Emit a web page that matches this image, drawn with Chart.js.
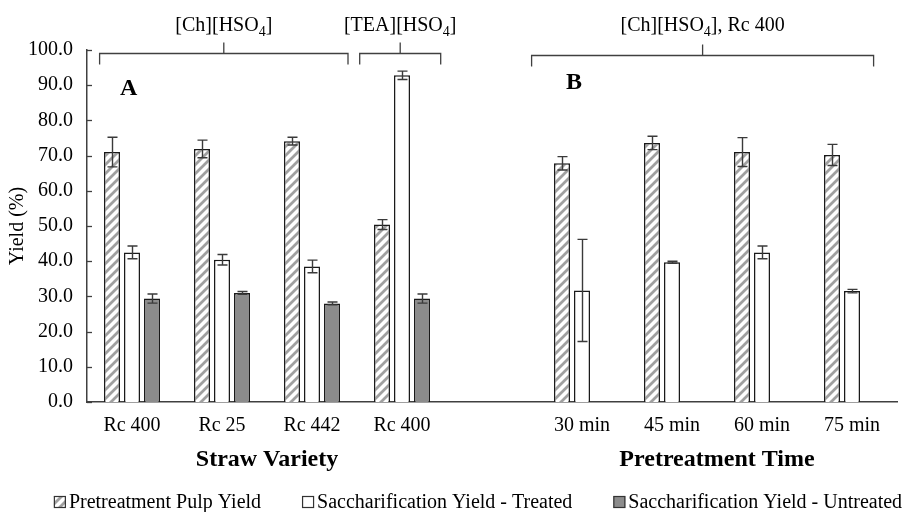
<!DOCTYPE html>
<html>
<head>
<meta charset="utf-8">
<script src="https://cdn.jsdelivr.net/npm/chart.js@4.4.1/dist/chart.umd.min.js"></script>
<style>
    html, body { margin: 0; padding: 0; background: #ffffff; }
</style>
</head>
<body>
<canvas id="yieldChart" width="906" height="512"></canvas>
<script>
// カテゴリ（空欄はAとBの区切り）
const categories = ['Rc 400', 'Rc 25', 'Rc 442', 'Rc 400', '', '30 min', '45 min', '60 min', '75 min'];
const seriesNames = ['Pretreatment Pulp Yield', 'Saccharification Yield - Treated', 'Saccharification Yield - Untreated'];

// 値と誤差
const pulpYield = [71.0, 71.9, 74.1, 50.4, null, 67.8, 73.6, 71.0, 70.2];
const pulpError = [4.2, 2.5, 1.1, 1.4, null, 1.9, 1.9, 4.1, 3.0];
const treatedYield = [42.5, 40.4, 38.5, 92.8, null, 31.7, 39.7, 42.5, 31.5];
const treatedError = [1.8, 1.5, 1.8, 1.2, null, 14.5, 0.3, 1.8, 0.5];
const untreatedYield = [29.4, 31.0, 28.0, 29.4, null, null, null, null, null];
const untreatedError = [1.3, 0.4, 0.4, 1.3, null, null, null, null, null];

// 上部の括弧注釈（カテゴリ位置で指定）
const groupLabels = [['[Ch][HSO', '4', ']'], ['[TEA][HSO', '4', ']'], ['[Ch][HSO', '4', '], Rc 400']];
const groupFrom = [-0.36, 2.53, 4.44];
const groupTo = [2.4, 3.43, 8.24];
const panelLabels = ['A', 'B'];
const axisTitles = ['Straw Variety', 'Pretreatment Time'];

const SERIF = "'Liberation Serif', 'Times New Roman', serif";
const canvas = document.getElementById('yieldChart');
const ctx = canvas.getContext('2d');

// 斜線ハッチのパターン
const makeHatch = () => {
    const size = 9;
    const c = document.createElement('canvas');
    c.width = size;
    c.height = size;
    const g = c.getContext('2d');
    g.fillStyle = '#ffffff';
    g.fillRect(0, 0, size, size);
    g.strokeStyle = '#a0a0a0';
    g.lineWidth = 2.8;
    g.beginPath();
    g.moveTo(-2, size + 2); g.lineTo(size + 2, -2);
    g.moveTo(-2, 2); g.lineTo(2, -2);
    g.moveTo(size - 2, size + 2); g.lineTo(size + 2, size - 2);
    g.stroke();
    return ctx.createPattern(c, 'repeat');
};

// 誤差棒
const errorBarPlugin = {
    id: 'errorBars',
    afterDatasetsDraw(chart) {
        const c = chart.ctx;
        const y = chart.scales.y;
        c.save();
        c.strokeStyle = '#3a3a3a';
        c.lineWidth = 1.4;
        chart.data.datasets.forEach((ds, di) => {
            const meta = chart.getDatasetMeta(di);
            meta.data.forEach((bar, i) => {
                const v = ds.data[i];
                const e = ds.errors[i];
                if (v == null || e == null) return;
                const top = y.getPixelForValue(v + e);
                const bot = y.getPixelForValue(v - e);
                const x = Math.round(bar.x) + 0.5;
                c.beginPath();
                c.moveTo(x, top); c.lineTo(x, bot);
                c.moveTo(x - 5, top); c.lineTo(x + 5, top);
                c.moveTo(x - 5, bot); c.lineTo(x + 5, bot);
                c.stroke();
            });
        });
        c.restore();
    },
};

// 下付き文字付きテキストを中央揃えで描く
const drawSubText = (c, parts, cx, baseline, size) => {
    const fonts = parts.map((p, i) => (i % 2 === 1 ? `${Math.round(size * 0.68)}px ${SERIF}` : `${size}px ${SERIF}`));
    const widths = parts.map((p, i) => { c.font = fonts[i]; return c.measureText(p).width; });
    let x = cx - widths.reduce((a, b) => a + b, 0) / 2;
    c.textAlign = 'left';
    c.textBaseline = 'alphabetic';
    parts.forEach((p, i) => {
        c.font = fonts[i];
        c.fillText(p, x, i % 2 === 1 ? baseline + 5 : baseline);
        x += widths[i];
    });
};

// 注釈・軸タイトル・凡例
const annotationPlugin = {
    id: 'annotations',
    afterDraw(chart) {
        const c = chart.ctx;
        const { x: xs, y: ys } = chart.scales;
        const area = chart.chartArea;
        c.save();
        c.fillStyle = '#000000';

        // y軸の内向き目盛り
        c.strokeStyle = '#404040';
        c.lineWidth = 1.3;
        ys.ticks.forEach((t) => {
            const py = Math.round(ys.getPixelForValue(t.value)) + 0.5;
            c.beginPath();
            c.moveTo(area.left, py);
            c.lineTo(area.left + 5, py);
            c.stroke();
        });

        // 括弧
        groupLabels.forEach((parts, i) => {
            const x0 = xs.getPixelForValue(groupFrom[i]);
            const x1 = xs.getPixelForValue(groupTo[i]);
            const mid = (x0 + x1) / 2;
            const hy = area.top + 3.5 + (i === 2 ? 2 : 0);
            c.beginPath();
            c.moveTo(x0, hy + 11); c.lineTo(x0, hy); c.lineTo(x1, hy); c.lineTo(x1, hy + 11);
            c.moveTo(mid, hy); c.lineTo(mid, hy - 11);
            c.stroke();
            drawSubText(c, parts, mid, area.top - 19, 20);
        });

        // パネル記号 A / B
        c.font = `bold 24px ${SERIF}`;
        c.textAlign = 'left';
        c.textBaseline = 'alphabetic';
        c.fillText(panelLabels[0], xs.getPixelForValue(0) - 12, area.top + 45);
        c.fillText(panelLabels[1], xs.getPixelForValue(5) - 16, area.top + 39);

        // 軸タイトル（2つ）
        c.font = `bold 24px ${SERIF}`;
        c.textAlign = 'center';
        c.fillText(axisTitles[0], (xs.getPixelForValue(0) + xs.getPixelForValue(3)) / 2, area.bottom + 64);
        c.fillText(axisTitles[1], (xs.getPixelForValue(5) + xs.getPixelForValue(8)) / 2, area.bottom + 64);

        // 凡例
        c.font = `20px ${SERIF}`;
        const box = 12;
        const gap = 3;
        const spacing = 41;
        const widths = chart.data.datasets.map((ds) => box + gap + c.measureText(ds.label).width);
        const total = widths.reduce((a, b) => a + b, 0) + spacing * (widths.length - 1);
        let lx = 478 - total / 2;
        const baseline = 508;
        c.textAlign = 'left';
        chart.data.datasets.forEach((ds, i) => {
            c.fillStyle = ds.backgroundColor;
            c.fillRect(lx, baseline - 12, box, box);
            c.strokeStyle = '#333333';
            c.lineWidth = 1.2;
            c.strokeRect(lx + 0.5, baseline - 11.5, box - 1, box - 1);
            c.fillStyle = '#000000';
            c.fillText(ds.label, lx + box + gap, baseline);
            lx += widths[i] + spacing;
        });
        c.restore();
    },
};

const barStyle = {
    borderColor: '#1a1a1a',
    borderWidth: 1.5,
    categoryPercentage: 0.667,
    barPercentage: 0.8,
};

new Chart(ctx, {
    type: 'bar',
    data: {
        labels: categories,
        datasets: [
            { label: seriesNames[0], data: pulpYield, errors: pulpError, backgroundColor: makeHatch(), ...barStyle },
            { label: seriesNames[1], data: treatedYield, errors: treatedError, backgroundColor: '#ffffff', ...barStyle },
            { label: seriesNames[2], data: untreatedYield, errors: untreatedError, backgroundColor: '#8c8c8c', ...barStyle },
        ],
    },
    options: {
        responsive: false,
        animation: false,
        layout: { padding: { top: 50, right: 9, bottom: 0, left: 0 } },
        plugins: {
            legend: { display: false },
            tooltip: { enabled: false },
        },
        scales: {
            x: {
                offset: true,
                grid: { display: false, drawTicks: false },
                border: { display: true, color: '#404040', width: 1.5 },
                ticks: {
                    color: '#000000',
                    font: { family: SERIF, size: 20 },
                    padding: 12,
                    maxRotation: 0,
                    autoSkip: false,
                },
                afterFit: (scale) => { scale.height = 110; },
            },
            y: {
                min: 0,
                max: 100,
                grid: { display: false, drawTicks: false },
                border: { display: true, color: '#404040', width: 1.5 },
                ticks: {
                    stepSize: 10,
                    color: '#000000',
                    font: { family: SERIF, size: 20 },
                    padding: 14,
                    callback: (v) => v.toFixed(1),
                },
                title: {
                    display: true,
                    text: 'Yield (%)',
                    color: '#000000',
                    font: { family: SERIF, size: 20 },
                    padding: { top: 6, bottom: 0 },
                },
                afterFit: (scale) => { scale.width = 87; },
            },
        },
    },
    plugins: [errorBarPlugin, annotationPlugin],
});
</script>
</body>
</html>
